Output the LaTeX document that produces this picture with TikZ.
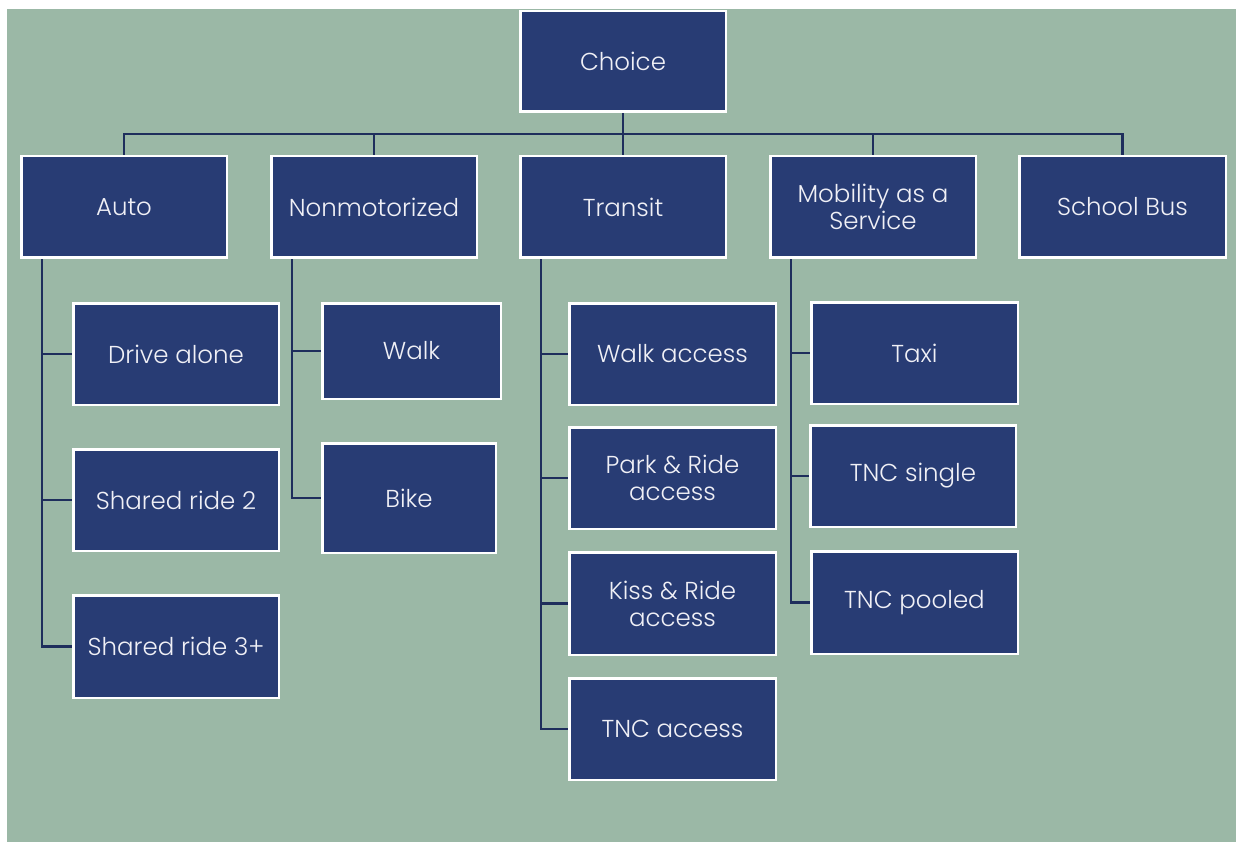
\documentclass[tikz,border=0pt]{standalone}
\usepackage{fontspec}
\setmainfont{Poppins Light}
\usetikzlibrary{backgrounds}
\definecolor{bgreen}{RGB}{155,184,166}
\definecolor{bfill}{RGB}{40,60,116}
\definecolor{bline}{RGB}{30,46,92}
\definecolor{btext}{RGB}{240,240,246}
\tikzset{
  box/.style={draw=white, line width=2.5pt, fill=bfill, text=btext, align=center,
    inner sep=0pt, outer sep=0pt, font=\fontsize{24.5}{27}\selectfont},
  conn/.style={draw=bline, line width=2.4pt},
}
\begin{document}
\begin{tikzpicture}[x=1pt,y=-1pt]
\useasboundingbox (0,0) rectangle (1236,842);
\begin{scope}[on background layer]
\fill[white] (0,0) rectangle (1236,842);
\fill[bgreen] (7,9) rectangle (1236,842);
\end{scope}
% root
\node[box, minimum width=205.5pt, minimum height=100.5pt] (choice) at (623,61.5) {Choice};
% level 1
\node[box, minimum width=205.5pt, minimum height=101.5pt] (auto) at (124,207) {Auto};
\node[box, minimum width=205.5pt, minimum height=101.5pt] (nonmot) at (374,207) {Nonmotorized};
\node[box, minimum width=205.5pt, minimum height=101.5pt] (transit) at (623,207) {Transit};
\node[box, minimum width=205.5pt, minimum height=101.5pt] (maas) at (873,207) {Mobility as a\\Service};
\node[box, minimum width=206.5pt, minimum height=101.5pt] (school) at (1122.5,207) {School Bus};
% auto children
\node[box, minimum width=205.5pt, minimum height=101.5pt] (da) at (176,354) {Drive alone};
\node[box, minimum width=205.5pt, minimum height=101.5pt] (sr2) at (176,500) {Shared ride 2};
\node[box, minimum width=205.5pt, minimum height=102.5pt] (sr3) at (176,646.5) {Shared ride 3+};
% nonmotorized children
\node[box, minimum width=178.5pt, minimum height=95.5pt] (walk) at (411.5,351) {Walk};
\node[box, minimum width=173.5pt, minimum height=109.5pt] (bike) at (409,498) {Bike};
% transit children
\node[box, minimum width=206.5pt, minimum height=101.5pt] (wa) at (672.5,354) {Walk access};
\node[box, minimum width=206.5pt, minimum height=101.5pt] (pr) at (672.5,478) {Park \& Ride\\access};
\node[box, minimum width=206.5pt, minimum height=102.5pt] (kr) at (672.5,603.5) {Kiss \& Ride\\access};
\node[box, minimum width=206.5pt, minimum height=101.5pt] (tnca) at (672.5,729) {TNC access};
% maas children
\node[box, minimum width=206.5pt, minimum height=101.5pt] (taxi) at (914.5,353) {Taxi};
\node[box, minimum width=205.5pt, minimum height=101.5pt] (tncs) at (913,476) {TNC single};
\node[box, minimum width=206.5pt, minimum height=102.5pt] (tncp) at (914.5,602.5) {TNC pooled};
% connectors
\coordinate (bus) at (623,134);
\coordinate (tauto) at (42,259);
\coordinate (tnon) at (292,259);
\coordinate (ttr) at (541,259);
\coordinate (tmaas) at (791,259);
\begin{scope}[on background layer]
\draw[conn] (choice.south) -- (bus);
\foreach \n in {auto,nonmot,transit,maas,school} {
  \draw[conn] (\n.north) |- (bus);
}
\foreach \n in {da,sr2,sr3} { \draw[conn] (tauto) |- (\n.west); }
\foreach \n in {walk,bike} { \draw[conn] (tnon) |- (\n.west); }
\foreach \n in {wa,pr,kr,tnca} { \draw[conn] (ttr) |- (\n.west); }
\foreach \n in {taxi,tncs,tncp} { \draw[conn] (tmaas) |- (\n.west); }
\end{scope}
\end{tikzpicture}
\end{document}
